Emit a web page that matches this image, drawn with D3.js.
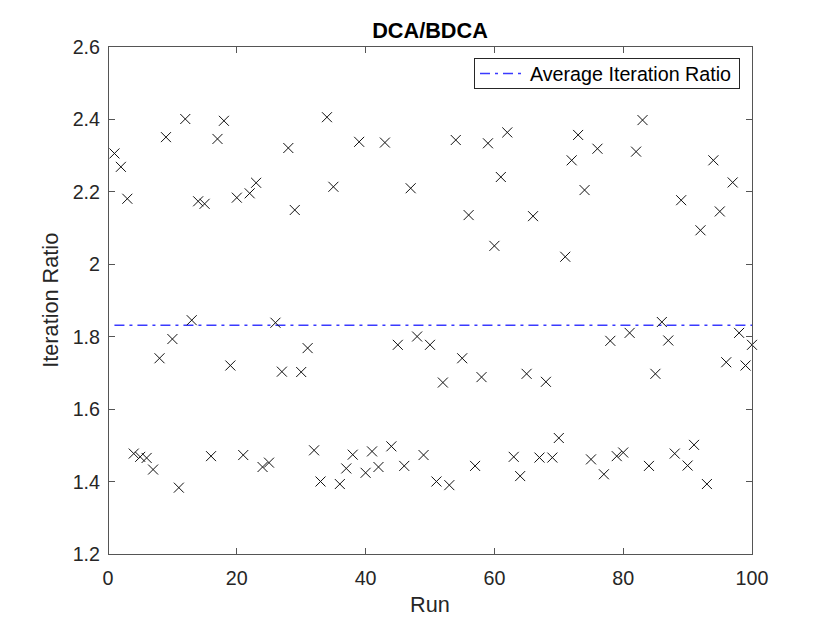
<!DOCTYPE html>
<html>
  <head>
    <meta charset="utf-8">
    <title>DCA/BDCA</title>
    <script src="https://d3js.org/d3.v7.min.js"></script>
  </head>
  <style>
    body { margin: 0; background: #fff; }
    text { font-family: "Liberation Sans", Arial, sans-serif; fill: #262626; }
    .axisLine { stroke: #555; stroke-width: 1; fill: none; shape-rendering: crispEdges; }
    .marker { stroke: #111; stroke-width: 1; }
    .avgLine { stroke: #3a3aff; stroke-width: 1.3; stroke-dasharray: 10,5,3,5; fill: none; }
  </style>
  <body>
    <script type="text/javascript">
        var width = 830;
        var height = 623;

        // iteration ratio per run (runs 1..100)
        const ratios = [
          2.305, 2.268, 2.180, 1.477, 1.468, 1.465, 1.433, 1.740, 2.350, 1.793,
          1.383, 2.400, 1.845, 2.173, 2.166, 1.470, 2.345, 2.395, 1.720, 2.183,
          1.473, 2.195, 2.224, 1.440, 1.452, 1.838, 1.703, 2.320, 2.149, 1.702,
          1.768, 1.486, 1.400, 2.405, 2.213, 1.393, 1.436, 1.474, 2.337, 1.424,
          1.483, 1.440, 2.335, 1.497, 1.777, 1.443, 2.209, 1.800, 1.473, 1.777,
          1.400, 1.673, 1.390, 2.342, 1.740, 2.135, 1.443, 1.688, 2.333, 2.050,
          2.240, 2.363, 1.468, 1.415, 1.697, 2.132, 1.466, 1.675, 1.466, 1.520,
          2.020, 2.286, 2.356, 2.204, 1.461, 2.318, 1.420, 1.788, 1.470, 1.480,
          1.810, 2.310, 2.397, 1.443, 1.697, 1.840, 1.789, 1.477, 2.176, 1.444,
          1.501, 2.093, 1.393, 2.286, 2.145, 1.729, 2.225, 1.810, 1.720, 1.777
        ];
        const runs = ratios.map((d, i) => i + 1);
        const averageRatio = 1.831;
        const xTicks = [0, 20, 40, 60, 80, 100];
        const yTicks = [1.2, 1.4, 1.6, 1.8, 2, 2.2, 2.4, 2.6];

        const m = {left: 108, right: 752, top: 46.5, bottom: 554};
        const svg = d3.select('body').append('svg').attr('width', width).attr('height', height);
        const x = d3.scaleLinear().domain([0, 100]).range([m.left, m.right]);
        const y = d3.scaleLinear().domain([1.2, 2.6]).range([m.bottom, m.top]);
        const tickLen = 6.5;

        // average line
        svg.append('line').attr('class', 'avgLine')
          .attr('x1', x(1)).attr('x2', x(100))
          .attr('y1', y(averageRatio)).attr('y2', y(averageRatio));

        // markers
        const s = 5;
        const gm = svg.append('g');
        runs.forEach((r, i) => {
          const cx = x(r), cy = y(ratios[i]);
          gm.append('path').attr('class', 'marker')
            .attr('d', `M${cx - s},${cy - s}L${cx + s},${cy + s}M${cx - s},${cy + s}L${cx + s},${cy - s}`);
        });

        // axes box
        svg.append('rect').attr('class', 'axisLine')
          .attr('x', m.left).attr('y', m.top)
          .attr('width', m.right - m.left).attr('height', m.bottom - m.top);

        const gx = svg.append('g');
        xTicks.forEach(t => {
          gx.append('line').attr('class', 'axisLine').attr('x1', x(t)).attr('x2', x(t)).attr('y1', m.bottom).attr('y2', m.bottom - tickLen);
          gx.append('line').attr('class', 'axisLine').attr('x1', x(t)).attr('x2', x(t)).attr('y1', m.top).attr('y2', m.top + tickLen);
          gx.append('text').attr('x', x(t)).attr('y', 585).attr('text-anchor', 'middle')
            .style('font-size', '19.7px').text(t);
        });

        const gy = svg.append('g');
        yTicks.forEach(t => {
          gy.append('line').attr('class', 'axisLine').attr('x1', m.left).attr('x2', m.left + tickLen).attr('y1', y(t)).attr('y2', y(t));
          gy.append('line').attr('class', 'axisLine').attr('x1', m.right).attr('x2', m.right - tickLen).attr('y1', y(t)).attr('y2', y(t));
          gy.append('text').attr('x', 100).attr('y', y(t) + 7).attr('text-anchor', 'end')
            .style('font-size', '19.7px').text(d3.format('.1f')(t).replace('2.0', '2'));
        });

        // title and labels
        svg.append('text').attr('x', (m.left + m.right) / 2).attr('y', 38).attr('text-anchor', 'middle')
          .style('font-size', '21.7px').style('font-weight', 'bold').style('fill', '#000').text('DCA/BDCA');
        svg.append('text').attr('x', (m.left + m.right) / 2).attr('y', 612).attr('text-anchor', 'middle')
          .style('font-size', '21.7px').text('Run');
        svg.append('text').attr('transform', `translate(58,${(m.top + m.bottom) / 2}) rotate(-90)`)
          .attr('text-anchor', 'middle').style('font-size', '21.7px').text('Iteration Ratio');

        // legend
        const lg = svg.append('g');
        lg.append('rect').attr('x', 474).attr('y', 58.5).attr('width', 265.5).attr('height', 29.5)
          .attr('fill', '#fff').attr('stroke', '#262626').attr('stroke-width', 1).style('shape-rendering', 'crispEdges');
        lg.append('line').attr('class', 'avgLine').attr('x1', 480).attr('x2', 523).attr('y1', 73.5).attr('y2', 73.5);
        lg.append('text').attr('x', 530).attr('y', 80.5).style('font-size', '19.7px').style('fill', '#000').text('Average Iteration Ratio');
      </script>
  </body>
</html>
